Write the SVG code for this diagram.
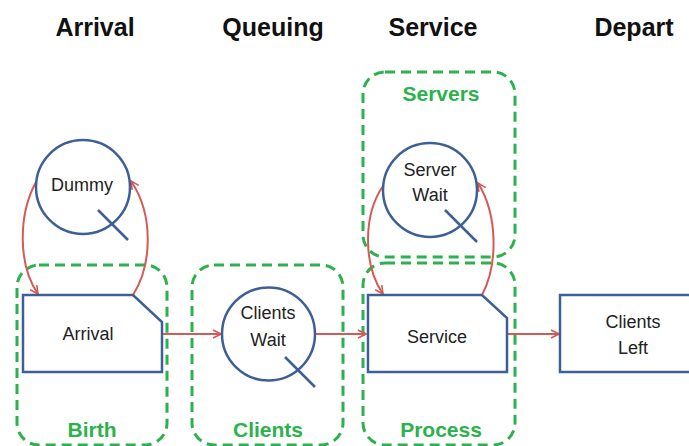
<svg xmlns="http://www.w3.org/2000/svg" width="689" height="446" viewBox="0 0 689 446">
  <style>
    .head { font-family: "Liberation Sans", Arial, sans-serif; font-weight: bold; font-size: 25px; fill: #111; text-anchor: middle; }
    .lbl { font-family: "Liberation Sans", Arial, sans-serif; font-size: 18px; fill: #222; text-anchor: middle; }
    .grp { font-family: "Liberation Sans", Arial, sans-serif; font-weight: bold; font-size: 21px; fill: #2bb24c; text-anchor: middle; }
    .zone { fill: none; stroke: #2bb24c; stroke-width: 3; stroke-dasharray: 10 6; }
    .shape { fill: #fff; stroke: #3d5f96; stroke-width: 2.5; }
    .tail { stroke: #3d5f96; stroke-width: 2.5; }
    .flow { fill: none; stroke: #d55a55; stroke-width: 2; marker-end: url(#arr); }
  </style>
  <defs>
    <marker id="arr" viewBox="0 0 10 10" refX="9" refY="5" markerWidth="10" markerHeight="10" orient="auto" markerUnits="userSpaceOnUse">
      <path d="M1,1 L9,5 L1,9" fill="none" stroke="#d55a55" stroke-width="1.6"/>
    </marker>
  </defs>
  <rect width="689" height="446" fill="#fff"/>

  <!-- column headings -->
  <g id="headings">
    <text class="head" x="95" y="36">Arrival</text>
    <text class="head" x="273" y="36">Queuing</text>
    <text class="head" x="433" y="36">Service</text>
    <text class="head" x="634" y="36">Depart</text>
  </g>

  <!-- grouping zones -->
  <g id="zone-birth">
    <rect class="zone" x="17" y="265" width="150" height="180" rx="22"/>
    <text class="grp" x="92" y="437">Birth</text>
  </g>
  <g id="zone-clients">
    <rect class="zone" x="192" y="265" width="151" height="180" rx="22"/>
    <text class="grp" x="268" y="437">Clients</text>
  </g>
  <g id="zone-servers">
    <rect class="zone" x="363" y="72" width="152" height="185" rx="22"/>
    <text class="grp" x="441" y="101">Servers</text>
  </g>
  <g id="zone-process">
    <rect class="zone" x="363" y="263" width="152" height="182" rx="22"/>
    <text class="grp" x="441" y="437">Process</text>
  </g>

  <!-- connectors -->
  <g id="connectors">
    <path class="flow" d="M36,182 C18,215 18,265 38,294"/>
    <path class="flow" d="M133,295 C152,265 154,215 131,181"/>
    <path class="flow" d="M162,334 L221,334"/>
    <path class="flow" d="M315,334 L366,334"/>
    <path class="flow" d="M383,186 C363,215 363,265 383,294"/>
    <path class="flow" d="M482,295 C498,265 498,215 478,183"/>
    <path class="flow" d="M507,334 L559,334"/>
  </g>

  <!-- nodes -->
  <g id="dummy">
    <circle class="shape" cx="83" cy="187" r="47"/>
    <line class="tail" x1="98" y1="210" x2="128" y2="240"/>
    <text class="lbl" x="82" y="191">Dummy</text>
  </g>
  <g id="arrival">
    <path class="shape" d="M23,295 L133,295 L162,322 L162,372 L23,372 Z"/>
    <text class="lbl" x="88" y="340">Arrival</text>
  </g>
  <g id="clients-wait">
    <circle class="shape" cx="268.5" cy="334" r="46.5"/>
    <line class="tail" x1="285" y1="357" x2="315" y2="387"/>
    <text class="lbl" x="268" y="319">Clients</text>
    <text class="lbl" x="268" y="346">Wait</text>
  </g>
  <g id="server-wait">
    <circle class="shape" cx="430" cy="190" r="47"/>
    <line class="tail" x1="445" y1="210" x2="477" y2="242"/>
    <text class="lbl" x="430" y="176">Server</text>
    <text class="lbl" x="430" y="201">Wait</text>
  </g>
  <g id="service">
    <path class="shape" d="M368,295 L482,295 L507,318 L507,372 L368,372 Z"/>
    <text class="lbl" x="437" y="343">Service</text>
  </g>
  <g id="clients-left">
    <rect class="shape" x="560" y="295" width="140" height="77"/>
    <text class="lbl" x="633" y="328">Clients</text>
    <text class="lbl" x="633" y="354">Left</text>
  </g>
</svg>
